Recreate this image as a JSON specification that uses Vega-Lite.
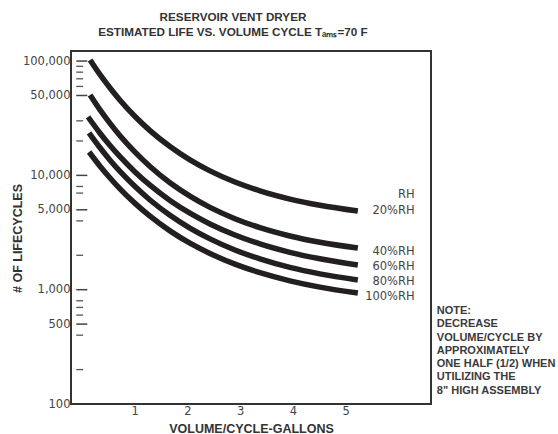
{
  "$schema": "https://vega.github.io/schema/vega-lite/v6.json",
  "width": 360,
  "height": 353,
  "autosize": {"type": "none"},
  "padding": {"left": 71, "top": 51, "right": 127, "bottom": 30},
  "background": "white",
  "config": {
    "view": {"stroke": "#333333", "strokeWidth": 2},
    "font": "Liberation Sans"
  },
  "title": {
    "text": ["RESERVOIR VENT DRYER", "ESTIMATED LIFE VS. VOLUME CYCLE Tₐₘₛ=70  F"],
    "fontSize": 11.7,
    "fontWeight": "bold",
    "color": "#333333",
    "lineHeight": 15,
    "offset": 10,
    "dx": -18,
    "anchor": "middle"
  },
  "datasets": {
    "curves": [
      {"rh": "20%", "x": 0.152, "y": 102200}, {"rh": "20%", "x": 0.341, "y": 76000}, {"rh": "20%", "x": 0.531, "y": 58170}, {"rh": "20%", "x": 0.720, "y": 45490}, {"rh": "20%", "x": 1.005, "y": 32760}, {"rh": "20%", "x": 1.289, "y": 24660}, {"rh": "20%", "x": 1.668, "y": 17870}, {"rh": "20%", "x": 2.047, "y": 13660}, {"rh": "20%", "x": 2.427, "y": 10950}, {"rh": "20%", "x": 2.900, "y": 8740}, {"rh": "20%", "x": 3.374, "y": 7318}, {"rh": "20%", "x": 3.943, "y": 6203}, {"rh": "20%", "x": 4.512, "y": 5475}, {"rh": "20%", "x": 5.232, "y": 4872},
      {"rh": "40%", "x": 0.152, "y": 50500}, {"rh": "40%", "x": 0.341, "y": 37430}, {"rh": "40%", "x": 0.531, "y": 28510}, {"rh": "40%", "x": 0.720, "y": 22210}, {"rh": "40%", "x": 1.005, "y": 15960}, {"rh": "40%", "x": 1.289, "y": 11965}, {"rh": "40%", "x": 1.668, "y": 8617}, {"rh": "40%", "x": 2.047, "y": 6577}, {"rh": "40%", "x": 2.427, "y": 5248}, {"rh": "40%", "x": 2.900, "y": 4181}, {"rh": "40%", "x": 3.374, "y": 3486}, {"rh": "40%", "x": 3.943, "y": 2950}, {"rh": "40%", "x": 4.512, "y": 2598}, {"rh": "40%", "x": 5.232, "y": 2312},
      {"rh": "60%", "x": 0.114, "y": 32430}, {"rh": "60%", "x": 0.341, "y": 23390}, {"rh": "60%", "x": 0.531, "y": 18260}, {"rh": "60%", "x": 0.720, "y": 14580}, {"rh": "60%", "x": 1.005, "y": 10730}, {"rh": "60%", "x": 1.289, "y": 8210}, {"rh": "60%", "x": 1.668, "y": 6043}, {"rh": "60%", "x": 2.047, "y": 4670}, {"rh": "60%", "x": 2.427, "y": 3757}, {"rh": "60%", "x": 2.900, "y": 3010}, {"rh": "60%", "x": 3.374, "y": 2516}, {"rh": "60%", "x": 3.943, "y": 2124}, {"rh": "60%", "x": 4.512, "y": 1864}, {"rh": "60%", "x": 5.232, "y": 1645},
      {"rh": "80%", "x": 0.133, "y": 23500}, {"rh": "80%", "x": 0.341, "y": 17440}, {"rh": "80%", "x": 0.531, "y": 13580}, {"rh": "80%", "x": 0.720, "y": 10840}, {"rh": "80%", "x": 1.005, "y": 7980}, {"rh": "80%", "x": 1.289, "y": 6092}, {"rh": "80%", "x": 1.668, "y": 4476}, {"rh": "80%", "x": 2.047, "y": 3458}, {"rh": "80%", "x": 2.427, "y": 2782}, {"rh": "80%", "x": 2.900, "y": 2225}, {"rh": "80%", "x": 3.374, "y": 1860}, {"rh": "80%", "x": 3.943, "y": 1567}, {"rh": "80%", "x": 4.512, "y": 1375}, {"rh": "80%", "x": 5.232, "y": 1216},
      {"rh": "100%", "x": 0.133, "y": 16020}, {"rh": "100%", "x": 0.341, "y": 12035}, {"rh": "100%", "x": 0.531, "y": 9490}, {"rh": "100%", "x": 0.720, "y": 7619}, {"rh": "100%", "x": 1.005, "y": 5689}, {"rh": "100%", "x": 1.289, "y": 4395}, {"rh": "100%", "x": 1.668, "y": 3269}, {"rh": "100%", "x": 2.047, "y": 2551}, {"rh": "100%", "x": 2.427, "y": 2073}, {"rh": "100%", "x": 2.900, "y": 1672}, {"rh": "100%", "x": 3.374, "y": 1408}, {"rh": "100%", "x": 3.943, "y": 1196}, {"rh": "100%", "x": 4.512, "y": 1054}, {"rh": "100%", "x": 5.232, "y": 936}
    ],
    "labels": [
      {"label": "RH", "y": 6750},
      {"label": "20%RH", "y": 4890},
      {"label": "40%RH", "y": 2140},
      {"label": "60%RH", "y": 1580},
      {"label": "80%RH", "y": 1170},
      {"label": "100%RH", "y": 863}
    ],
    "ticks": [
      {"v": 100000, "major": true}, {"v": 90000, "major": false}, {"v": 80000, "major": false}, {"v": 70000, "major": false}, {"v": 60000, "major": false},
      {"v": 50000, "major": true}, {"v": 30000, "major": false}, {"v": 20000, "major": false},
      {"v": 10000, "major": true}, {"v": 8000, "major": false}, {"v": 7000, "major": false},
      {"v": 5000, "major": true}, {"v": 4000, "major": false}, {"v": 2000, "major": false},
      {"v": 1000, "major": true}, {"v": 800, "major": false}, {"v": 700, "major": false}, {"v": 600, "major": false},
      {"v": 500, "major": true}, {"v": 400, "major": false}, {"v": 200, "major": false}
    ],
    "note": [
      {"text": "NOTE:\nDECREASE\nVOLUME/CYCLE BY\nAPPROXIMATELY\nONE HALF (1/2) WHEN\nUTILIZING THE\n8\" HIGH ASSEMBLY", "y": 735}
    ]
  },
  "layer": [
    {
      "data": {"name": "ticks"},
      "transform": [{"filter": "datum.major"}],
      "mark": {"type": "rule", "color": "#444444", "strokeWidth": 1.5},
      "encoding": {
        "x": {"datum": -0.11, "type": "quantitative", "scale": {"domain": [-0.21, 6.62], "nice": false, "zero": false},
          "axis": {"values": [1, 2, 3, 4, 5], "ticks": false, "domain": false, "grid": false, "labelPadding": 1, "labelFontSize": 11.5, "labelColor": "#444444", "labelFont": "DejaVu Sans",
            "title": "VOLUME/CYCLE-GALLONS", "titleFontSize": 12.5, "titleFontWeight": "bold", "titleColor": "#333333", "titleY": 24, "titleBaseline": "middle"}},
        "x2": {"datum": 0.1},
        "y": {"field": "v", "type": "quantitative", "scale": {"type": "log", "domain": [100, 122500], "nice": false},
          "axis": {"values": [100000, 50000, 10000, 5000, 1000, 500, 100], "format": ",d", "ticks": false, "domain": false, "grid": false, "labelPadding": 1, "labelFontSize": 11.5, "labelColor": "#444444", "labelFont": "DejaVu Sans",
            "title": "# OF LIFECYCLES", "titleFontSize": 12.5, "titleFontWeight": "bold", "titleColor": "#333333", "titleX": -54, "titleY": 187, "titleAngle": -90, "titleAlign": "center", "titleBaseline": "middle"}}
      }
    },
    {
      "data": {"name": "ticks"},
      "transform": [{"filter": "!datum.major"}],
      "mark": {"type": "rule", "color": "#555555", "strokeWidth": 1.3},
      "encoding": {
        "x": {"datum": -0.11, "type": "quantitative"},
        "x2": {"datum": 0.02},
        "y": {"field": "v", "type": "quantitative"}
      }
    },
    {
      "data": {"name": "curves"},
      "mark": {"type": "line", "interpolate": "monotone", "color": "#231f20", "strokeWidth": 5.5, "strokeCap": "butt"},
      "encoding": {
        "x": {"field": "x", "type": "quantitative"},
        "y": {"field": "y", "type": "quantitative"},
        "detail": {"field": "rh"}
      }
    },
    {
      "data": {"name": "labels"},
      "mark": {"type": "text", "align": "right", "baseline": "middle", "fontSize": 11.5, "color": "#444444", "font": "DejaVu Sans"},
      "encoding": {
        "x": {"datum": 6.31, "type": "quantitative"},
        "y": {"field": "y", "type": "quantitative"},
        "text": {"field": "label"}
      }
    },
    {
      "data": {"name": "note"},
      "mark": {"type": "text", "align": "left", "baseline": "top", "fontSize": 11, "fontWeight": "bold", "lineHeight": 13.3, "lineBreak": "\n", "color": "#3a3a3a", "font": "Liberation Sans"},
      "encoding": {
        "x": {"datum": 6.73, "type": "quantitative"},
        "y": {"field": "y", "type": "quantitative"},
        "text": {"field": "text"}
      }
    }
  ]
}
